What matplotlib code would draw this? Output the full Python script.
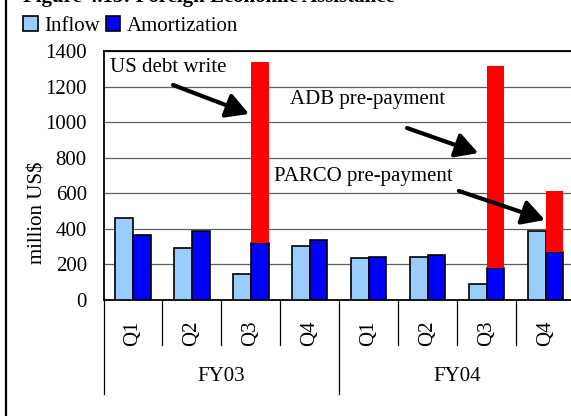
import matplotlib
matplotlib.use("Agg")
from matplotlib import pyplot as plt
from matplotlib.lines import Line2D
import numpy as np

plt.rcParams['font.family'] = ['Liberation Serif', 'DejaVu Serif']

# data
quarters = ['Q1', 'Q2', 'Q3', 'Q4', 'Q1', 'Q2', 'Q3', 'Q4']
years = ['FY03', 'FY04']
inflow = [463, 292, 146, 304, 238, 240, 92, 390]
amortization = [367, 388, 320, 335, 240, 251, 182, 268]
prepayment = [0, 0, 1020, 0, 0, 0, 1135, 345]   # stacked on top of amortization

fs = 15
W, H = 571, 416
fig = plt.figure(figsize=(W / 100, H / 100), dpi=100)
ax = fig.add_axes([103.5 / W, 1 - 300 / H, 471.5 / W, 249 / H])

x = np.arange(len(quarters))
w = 0.3
ax.bar(x - w / 2, inflow, w, color='#99CCFF', edgecolor='black', lw=1.2, zorder=3, label='Inflow')
ax.bar(x + w / 2, amortization, w, color='#0000FF', edgecolor='black', lw=1.2, zorder=3, label='Amortization')
pre = np.array(prepayment, dtype=float)
m = pre > 0
ax.bar((x + w / 2)[m], pre[m], w, bottom=np.array(amortization)[m], color='#FF0000',
       edgecolor='none', zorder=3)

ax.set_xlim(-0.5, len(quarters) - 0.5)
ax.set_ylim(0, 1400)
ax.set_yticks(range(0, 1401, 200))
ax.tick_params(axis='y', length=0, pad=12, labelsize=fs)
ax.set_xticks([])
ax.grid(axis='y', color='#606060', lw=0.9, zorder=0)
for s in ['top', 'left', 'bottom']:
    ax.spines[s].set_linewidth(1.3)
ax.spines['right'].set_visible(False)

# category axis: quarter labels, year labels, divider lines
tr = ax.get_xaxis_transform()
for i, q in enumerate(quarters):
    ax.text(i, -0.1325, q, transform=tr, rotation=90, ha='center', va='center', fontsize=fs)
for k in range(len(quarters) + 1):
    low = -0.378 if k % 4 == 0 else -0.181
    ax.plot([k - 0.5, k - 0.5], [0, low], transform=tr, color='black', lw=0.9, clip_on=False)
for j, yname in enumerate(years):
    ax.text(j * 4 + 1.5, -0.309, yname, transform=tr, ha='center', va='center', fontsize=fs)

fig.text(38 / W, 1 - 213 / H, 'million US$', rotation=90, ha='center', va='center', fontsize=fs)

# annotations
arr = dict(arrowstyle='-|>,head_length=0.9,head_width=0.5', color='black', lw=3,
           mutation_scale=15, shrinkA=0, shrinkB=0)
ax.text(-0.39, 1310, 'US debt write', ha='left', va='center', fontsize=fs, zorder=5)
ax.annotate('', xy=(1.97, 1046), xytext=(0.68, 1209), arrowprops=arr, zorder=5)
ax.text(2.66, 1130, 'ADB pre-payment', ha='left', va='center', fontsize=fs, zorder=5)
ax.annotate('', xy=(5.86, 826), xytext=(4.65, 967), arrowprops=arr, zorder=5)
ax.text(2.39, 692, 'PARCO pre-payment', ha='left', va='center', fontsize=fs, zorder=5)
ax.annotate('', xy=(6.99, 450), xytext=(5.53, 613), arrowprops=arr, zorder=5)

fig.legend(loc='upper left', bbox_to_anchor=(23 / W, 1 - 16 / H), ncol=2, frameon=False,
           fontsize=fs, handlelength=0.7, handleheight=0.7, handletextpad=0.3,
           columnspacing=0.3, borderpad=0, borderaxespad=0)

# title is cut off at the top edge in the original crop
fig.text(23 / W, 1 - 2 / H, 'Figure 4.13: Foreign Economic Assistance', ha='left',
         va='baseline', fontsize=fs, weight='bold')
fig.add_artist(Line2D([6 / W, 6 / W], [0, 1], transform=fig.transFigure, color='black', lw=1.6))

plt.savefig('out.png', dpi=100)
